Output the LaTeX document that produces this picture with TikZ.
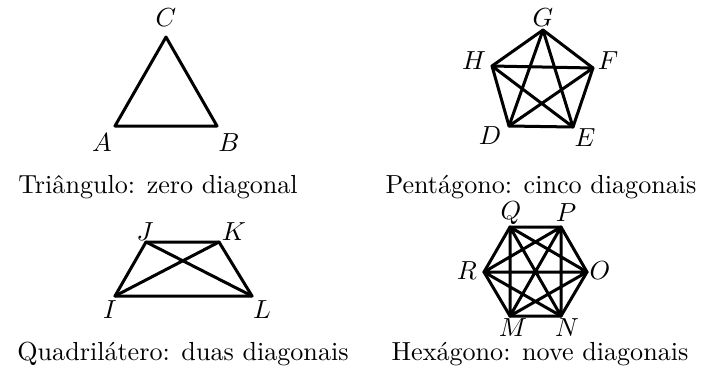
\documentclass[tikz,border=0pt]{standalone}
\begin{document}
\begin{tikzpicture}[x=0.383pt,y=-0.383pt,
  edge/.style={line width=1.15pt,line join=round,line cap=round},
  lbl/.style={inner sep=0pt},
  captxt/.style={anchor=base,inner sep=0pt}]
\useasboundingbox (0,0) rectangle (702,369);
% Triangle
\coordinate (A) at (115,126);
\coordinate (B) at (217,126);
\coordinate (C) at (166,37);
\draw[edge] (A) -- (B) -- (C) -- cycle;
\node[lbl] (lA) at (102,143) {$A$};
\node[lbl] (lB) at (229,143) {$B$};
\node[lbl] (lC) at (166,18) {$C$};
\node[captxt] (t1) at (158,193) {Triângulo: zero diagonal};
% Pentagon
\coordinate (G) at (543,30);
\coordinate (F) at (593,68);
\coordinate (E) at (573,127);
\coordinate (D) at (509,126);
\coordinate (H) at (492,66);
\draw[edge] (G) -- (F) -- (E) -- (D) -- (H) -- cycle;
\draw[edge] (G) -- (E) (G) -- (D) (H) -- (F) (H) -- (E) (D) -- (F);
\node[lbl] (lG) at (543,18) {$G$};
\node[lbl] (lF) at (608,61) {$F$};
\node[lbl] (lE) at (585,138) {$E$};
\node[lbl] (lD) at (490,136) {$D$};
\node[lbl] (lH) at (474,61) {$H$};
\node[captxt] (t2) at (541,193) {Pentágono: cinco diagonais};
% Quadrilateral
\coordinate (J) at (146,242);
\coordinate (K) at (219,242);
\coordinate (L) at (252,296);
\coordinate (I) at (115,296);
\draw[edge] (I) -- (J) -- (K) -- (L) -- cycle;
\draw[edge] (I) -- (K) (J) -- (L);
\node[lbl] (lJ) at (145,232) {$J$};
\node[lbl] (lK) at (234,232) {$K$};
\node[lbl] (lI) at (110,310) {$I$};
\node[lbl] (lL) at (262,310) {$L$};
\node[captxt] (t3) at (183,360) {Quadrilátero: duas diagonais};
% Hexagon
\coordinate (Q) at (510,227);
\coordinate (P) at (561,227);
\coordinate (O) at (587,272);
\coordinate (N) at (561,316);
\coordinate (M) at (510,316);
\coordinate (R) at (484,272);
\draw[edge] (Q) -- (P) -- (O) -- (N) -- (M) -- (R) -- cycle;
\draw[edge] (Q) -- (O) (Q) -- (N) (Q) -- (M)
            (P) -- (N) (P) -- (M) (P) -- (R)
            (R) -- (O) (R) -- (N) (O) -- (M);
\node[lbl] (lQ) at (511,213) {$Q$};
\node[lbl] (lP) at (566,213) {$P$};
\node[lbl] (lO) at (600,271) {$O$};
\node[lbl] (lN) at (567,328) {$N$};
\node[lbl] (lM) at (513,328) {$M$};
\node[lbl] (lR) at (467,271) {$R$};
\node[captxt] (t4) at (540,360) {Hexágono: nove diagonais};
\end{tikzpicture}
\end{document}
